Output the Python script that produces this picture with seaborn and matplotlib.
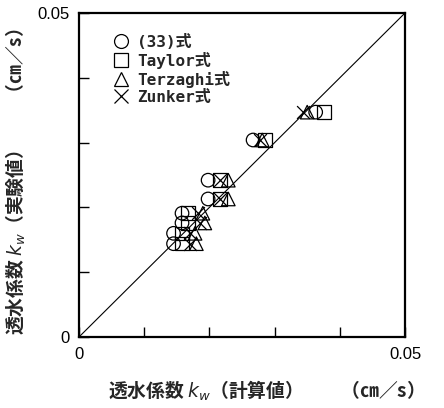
import matplotlib
matplotlib.use("Agg")
import matplotlib.pyplot as plt
import seaborn as sns
import pandas as pd
from matplotlib.lines import Line2D

# Measured permeability (vertical axis), cm/s
k_measured = [0.0347, 0.0304, 0.0242, 0.0213, 0.0191, 0.0176, 0.0160, 0.0144]

# Computed permeability for each formula (horizontal axis), cm/s
k_eq33 = [0.0363, 0.0267, 0.0198, 0.0198, 0.0158, 0.0158, 0.0145, 0.0145]
k_taylor = [0.0376, 0.0285, 0.0216, 0.0216, 0.0167, 0.0167, 0.0158, 0.0158]
k_terzaghi = [0.0350, 0.0281, 0.0229, 0.0229, 0.0190, 0.0193, 0.0178, 0.0180]
k_zunker = [0.0344, 0.0278, 0.0216, 0.0216, 0.0183, 0.0186, 0.0170, 0.0170]

methods = ["(33)式", "Taylor式", "Terzaghi式", "Zunker式"]
computed = [k_eq33, k_taylor, k_terzaghi, k_zunker]
markers = ["o", "s", "^", "x"]

tick_values = [0.0, 0.01, 0.02, 0.03, 0.04, 0.05]
tick_labels = ["0", "", "", "", "", "0.05"]

rows = []
for name, vals in zip(methods, computed):
    for xv, yv in zip(vals, k_measured):
        rows.append({"method": name, "calc": xv, "exp": yv})
df = pd.DataFrame(rows)

sns.set_style("ticks")
plt.rcParams["font.family"] = ["Liberation Sans", "Noto Sans CJK JP"]

fig = plt.figure(figsize=(4.44, 4.08), dpi=100)
ax = fig.add_axes([79 / 444, 71 / 408, 326 / 444, 324 / 408])

# 1:1 reference line
sns.lineplot(x=[0.0, 0.05], y=[0.0, 0.05], ax=ax, color="black", lw=0.8)

for name, mk in zip(methods, markers):
    sub = df[df["method"] == name]
    if mk == "x":
        sns.scatterplot(data=sub, x="calc", y="exp", marker=mk, s=85,
                        color="black", linewidth=0.9, ax=ax, zorder=3)
    else:
        sns.scatterplot(data=sub, x="calc", y="exp", marker=mk, s=95,
                        facecolor="none", edgecolor="black", linewidth=0.9,
                        ax=ax, zorder=3)

ax.set_xlim(0, 0.05)
ax.set_ylim(0, 0.05)
ax.set_xticks(tick_values)
ax.set_yticks(tick_values)
ax.set_xticklabels(tick_labels)
ax.set_yticklabels(tick_labels)
ax.tick_params(direction="in", length=7, width=1, labelsize=12, pad=7,
               colors="black")
for sp in ax.spines.values():
    sp.set_linewidth(1.6)
    sp.set_color("black")

lab_font = ["Noto Sans CJK JP", "DejaVu Sans"]
ax.set_xlabel("透水係数 $\\mathit{k}_{\\mathit{w}}$（計算値）　　（㎝／s）",
              fontsize=13.5, fontweight="bold", family=lab_font)
ax.xaxis.set_label_coords(0.56, -0.13)
ax.set_ylabel("透水係数 $\\mathit{k}_{\\mathit{w}}$（実験値）　　（㎝／s）",
              fontsize=13.5, fontweight="bold", family=lab_font)
ax.yaxis.set_label_coords(-0.155, 0.48)

handles = [Line2D([], [], linestyle="none", marker=mk, markersize=10,
                  markerfacecolor="none", markeredgecolor="black",
                  color="black", markeredgewidth=0.9)
           for mk in markers]
leg = ax.legend(handles, methods, loc="upper left", frameon=False,
                bbox_to_anchor=(0.07, 0.955), handletextpad=0.2,
                handlelength=1.6, labelspacing=0.12, borderaxespad=0.0,
                prop={"family": ["DejaVu Sans Mono", "Noto Sans CJK JP"],
                      "weight": "bold", "size": 11.5})

fig.savefig("out.png", dpi=100, facecolor="white")
